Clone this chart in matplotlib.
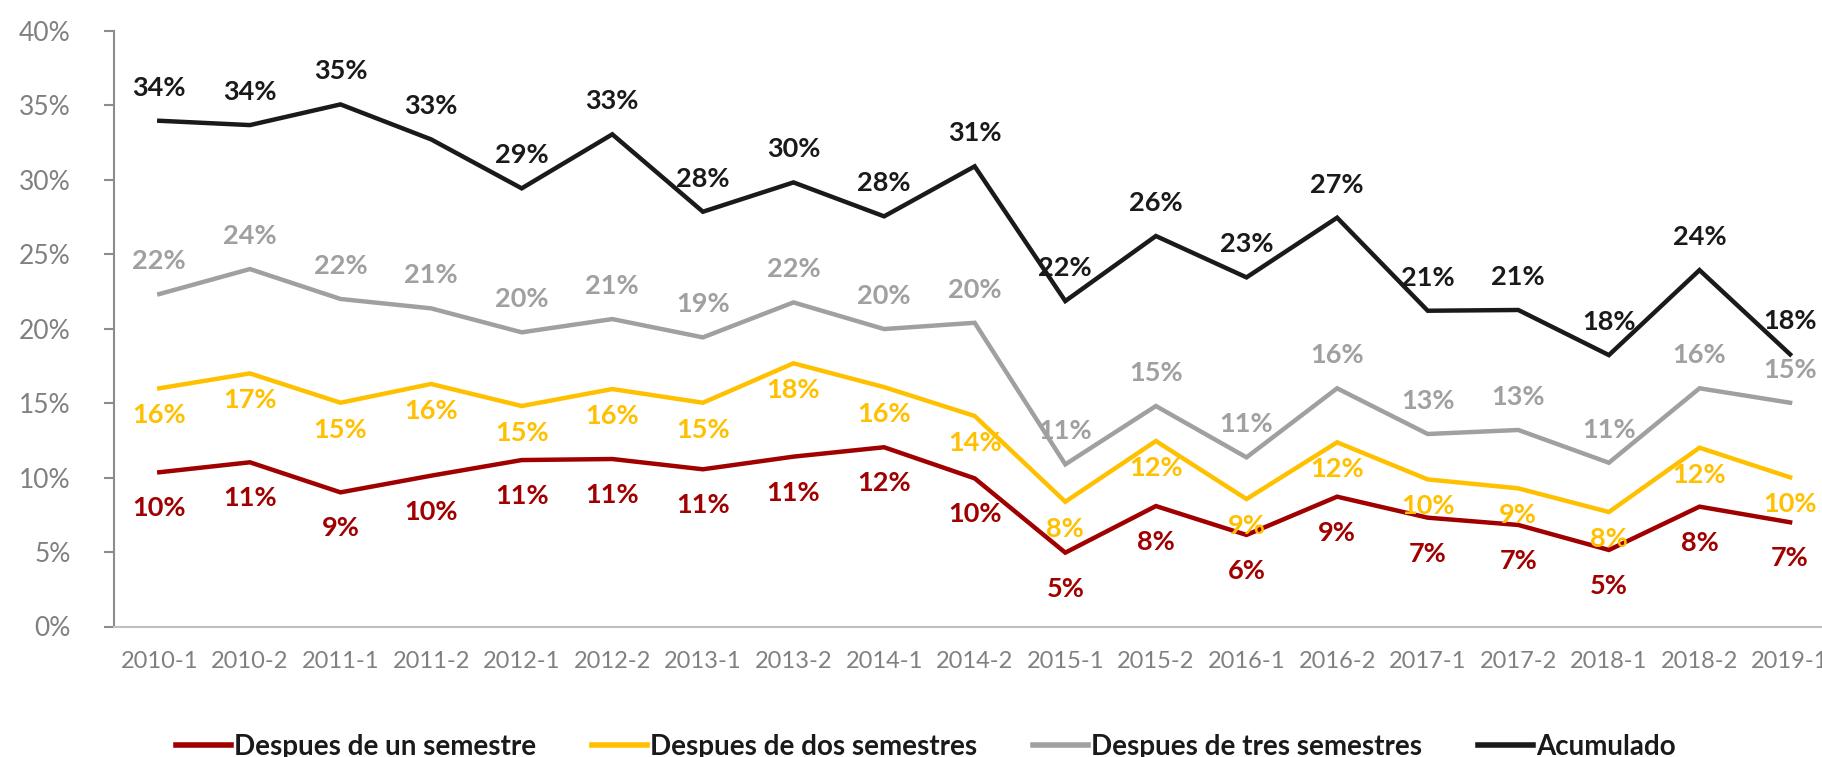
import numpy as np
import matplotlib
matplotlib.use("Agg")
import matplotlib.pyplot as plt
from matplotlib.ticker import PercentFormatter

plt.rcParams['font.family'] = ['Lato', 'DejaVu Sans']

periodos = ['2010-1', '2010-2', '2011-1', '2011-2', '2012-1', '2012-2', '2013-1',
            '2013-2', '2014-1', '2014-2', '2015-1', '2015-2', '2016-1', '2016-2',
            '2017-1', '2017-2', '2018-1', '2018-2', '2019-1']

# valores en %
un_semestre = [10.36, 11.03, 9.01, 10.13, 11.18, 11.25, 10.56, 11.41, 12.04, 9.95,
               4.96, 8.09, 6.15, 8.72, 7.31, 6.82, 5.14, 8.05, 7.0]
dos_semestres = [16.0, 17.0, 15.03, 16.29, 14.81, 15.95, 15.03, 17.68, 16.08, 14.14,
                 8.38, 12.46, 8.56, 12.37, 9.88, 9.28, 7.69, 12.01, 10.02]
tres_semestres = [22.33, 24.01, 22.0, 21.37, 19.76, 20.65, 19.42, 21.77, 19.98, 20.40,
                  10.89, 14.81, 11.36, 16.0, 12.93, 13.2, 11.0, 16.0, 15.03]
acumulado = [33.97, 33.68, 35.07, 32.72, 29.43, 33.06, 27.86, 29.83, 27.55, 30.91,
             21.86, 26.23, 23.45, 27.46, 21.21, 21.26, 18.23, 23.94, 18.28]

series = [
    ('Despues de un semestre', un_semestre, '#A00000', 36),
    ('Despues de dos semestres', dos_semestres, '#FFC000', 27),
    ('Despues de tres semestres', tres_semestres, '#A0A0A0', -33),
    ('Acumulado', acumulado, '#1A1A1A', -33),
]

W, H = 1822, 757
fig = plt.figure(figsize=(W / 100, H / 100), dpi=100)
ax = fig.add_axes([114 / W, 1 - 626.5 / H, 19 * 90.6 / W, (626.5 - 31) / H])

x = np.arange(len(periodos))
for nombre, vals, color, off in series:
    v = np.array(vals)
    ax.plot(x, v, color=color, lw=3.2, label=nombre, solid_joinstyle='miter')
    for xi, yi in zip(x, v):
        ax.annotate(f'{yi:.0f}%', (xi, yi), xytext=(0, -off * 0.72),
                    textcoords='offset points', ha='center', va='center',
                    fontsize=19.5, fontweight='bold', color=color)

ax.set_xlim(-0.5, len(periodos) - 0.5)
ax.set_ylim(0, 40)
ax.set_yticks(np.arange(0, 41, 5))
ax.yaxis.set_major_formatter(PercentFormatter(decimals=0))
ax.set_xticks(x)
ax.set_xticklabels(periodos)

for s in ['top', 'right']:
    ax.spines[s].set_visible(False)
ax.spines['left'].set_color('#8C8C8C')
ax.spines['left'].set_linewidth(1.5)
ax.spines['bottom'].set_color('#BFBFBF')
ax.spines['bottom'].set_linewidth(1.5)
ax.tick_params(axis='y', length=7, width=1.5, color='#8C8C8C',
               labelsize=19, labelcolor='#808080', pad=24)
ax.tick_params(axis='x', length=0, labelsize=17, labelcolor='#808080', pad=18)

leg = fig.legend(loc='center', bbox_to_anchor=(0.508, 0.013), ncol=4, frameon=False,
                 fontsize=20, handlelength=2.0, handletextpad=0.1, columnspacing=2.0)
for t in leg.get_texts():
    t.set_fontweight('bold')
    t.set_color('#1A1A1A')
for l in leg.get_lines():
    l.set_linewidth(4)

fig.savefig('out.png', dpi=100)
